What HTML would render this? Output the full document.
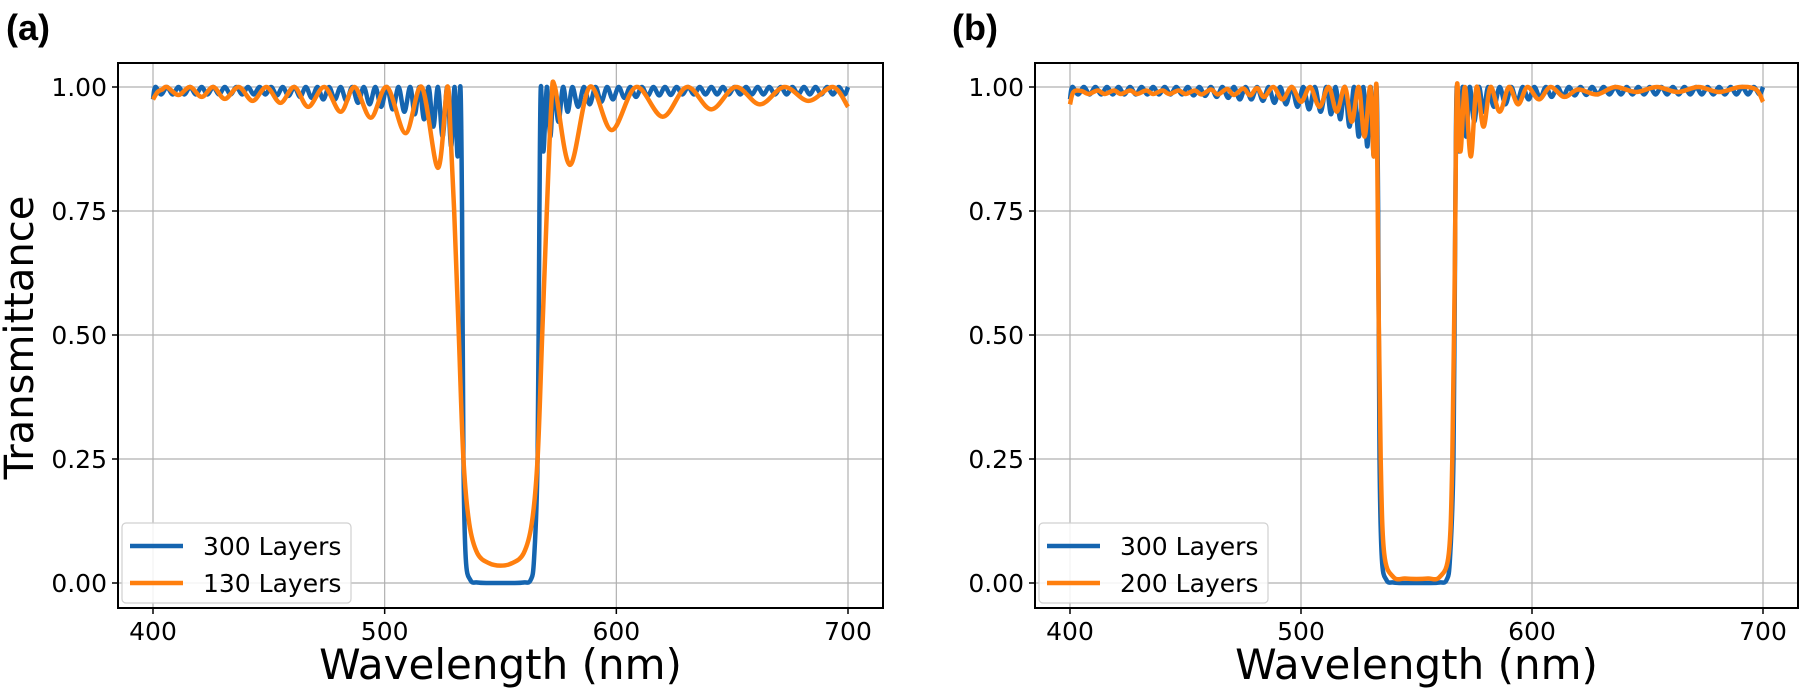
<!DOCTYPE html>
<html><head><meta charset="utf-8"><style>
html,body{margin:0;padding:0;background:#fff;}
svg{display:block;font-family:"DejaVu Sans","Liberation Sans",sans-serif;}
</style></head><body>
<svg id="fig" width="1801" height="694" viewBox="0 0 1801 694" xmlns="http://www.w3.org/2000/svg"></svg>
<script>
// ---- data ----
const xTicks = [400, 500, 600, 700];
const yTicks = [0, 0.25, 0.5, 0.75, 1.0];
const yTickLabels = ["0.00", "0.25", "0.50", "0.75", "1.00"];

const wl300 = [400,401,403.5,406,408.5,411,413.5,416,418.5,421,423.5,426,428.5,431,433.5,436,438.5,441,443.5,446,448.5,451,453.5,456,458.5,461,463.5,466,468.5,471,473.5,476,478.5,481,483.5,486,488.5,491,493.5,496,498.5,501,503.5,506,508.5,511,513,515,517,519,521,523,525,527,528.7,530.2,531.5,532.7,533.4,534,535,537,540,545,550,555,560,563,564.5,566,566.8,567.4,568.5,570,571.5,573,575,577,579,581,583.5,586,588.5,591,593.5,596,598.5,601,603.5,606,608.5,611,613.5,616,618.5,621,623.5,626,628.5,631,633.5,636,638.5,641,643.5,646,648.5,651,653.5,656,658.5,661,663.5,666,668.5,671,673.5,676,678.5,681,683.5,686,688.5,691,693.5,696,698.5,700];
const t300 = [0.975,1.0,0.985,1.0,0.985,1.0,0.985,1.0,0.985,1.0,0.985,1.0,0.985,1.0,0.985,1.0,0.985,1.0,0.985,1.0,0.985,1.0,0.983,1.0,0.982,1.0,0.98,1.0,0.978,1.0,0.975,1.0,0.975,1.0,0.972,1.0,0.968,1.0,0.965,1.0,0.96,1.0,0.955,1.0,0.95,1.0,0.945,1.0,0.935,1.0,0.92,1.0,0.9,1.0,0.88,1.0,0.86,1.0,0.75,0.25,0.05,0.006,0.001,0,0,0,0.001,0.006,0.05,0.25,0.75,1.0,0.87,1.0,0.9,1.0,0.93,1.0,0.95,1.0,0.96,1.0,0.965,1.0,0.97,1.0,0.975,1.0,0.978,1.0,0.98,1.0,0.982,1.0,0.983,1.0,0.984,1.0,0.985,1.0,0.985,1.0,0.985,1.0,0.985,1.0,0.985,1.0,0.985,1.0,0.985,1.0,0.985,1.0,0.985,1.0,0.985,1.0,0.985,1.0,0.985,1.0,0.985,1.0,0.985,1.0,0.985,1.0,0.97];

const wl130 = [400,402,404,406,411,416,421,426,431,437,443,449,455,461,467,474,481,487,494,501,509,516,523,527,528.5,530,532,534,536.5,540,545,550,555,560,563.5,566,568,570,572,573.5,580,588.5,598,608.5,620,630.5,641,651.5,662,672.5,683,693.5,700];
const t130 = [0.975,0.99,0.995,1.0,0.984,1.0,0.98,1.0,0.976,1.0,0.972,1.0,0.968,1.0,0.96,1.0,0.95,1.0,0.938,1.0,0.907,1.0,0.837,1.0,0.9,0.75,0.5,0.25,0.12,0.06,0.04,0.035,0.04,0.06,0.12,0.25,0.5,0.75,0.97,1.0,0.843,1.0,0.913,1.0,0.94,1.0,0.955,1.0,0.965,1.0,0.972,1.0,0.96];

const wl200 = [400,401.5,405,408,412,415,419,422,426,429,433,436,440,443,447,450,454,457,461,464,468,471,475,478,481,484,488,492,496,500,504,508,512,515.5,519,522,525,527.5,530,531.5,532.7,533.5,534.5,536,540,545,550,555,560,564,565.5,566.5,567.5,569,571,573.5,576,579,582,586,590,594,598,603,608,614,620,628,636,645,654,663,672,681,690,697,700];
const t200 = [0.965,0.99,0.992,0.986,0.993,0.986,0.993,0.986,0.993,0.986,0.993,0.986,0.993,0.986,0.993,0.986,0.993,0.985,0.995,0.985,0.996,0.984,0.997,0.983,0.998,0.98,1.0,0.975,1.0,0.97,1.0,0.96,1.0,0.95,1.0,0.93,1.0,0.9,1.0,0.86,1.0,0.6,0.25,0.06,0.012,0.009,0.008,0.009,0.012,0.06,0.25,0.6,1.0,0.87,1.0,0.86,1.0,0.92,1.0,0.95,1.0,0.965,1.0,0.975,1.0,0.98,0.995,0.985,1.0,0.99,1.0,0.99,1.0,0.99,1.0,0.995,0.97];

const BLUE = "#1565b0", ORANGE = "#ff7f0e";
const svg = document.getElementById('fig');
const NS = "http://www.w3.org/2000/svg";
function mk(tag, attrs, parent){
  const e = document.createElementNS(NS, tag);
  for (const k in attrs) e.setAttribute(k, attrs[k]);
  (parent||svg).appendChild(e); return e;
}
function catmull(pts){
  let d = `M${pts[0][0].toFixed(2)},${pts[0][1].toFixed(2)}`;
  for (let i=0;i<pts.length-1;i++){
    const p0=pts[Math.max(0,i-1)], p1=pts[i], p2=pts[i+1], p3=pts[Math.min(pts.length-1,i+2)];
    const c1x=p1[0]+(p2[0]-p0[0])/6, c1y=p1[1]+(p2[1]-p0[1])/6;
    const c2x=p2[0]-(p3[0]-p1[0])/6, c2y=p2[1]-(p3[1]-p1[1])/6;
    d += ` C${c1x.toFixed(2)},${c1y.toFixed(2)} ${c2x.toFixed(2)},${c2y.toFixed(2)} ${p2[0].toFixed(2)},${p2[1].toFixed(2)}`;
  }
  return d;
}

function panel(id, left, right, x400, x700, label, labelX, series, showYLabel){
  const top = 63, bottom = 608, y0 = 583, y1 = 87;
  const sx = v => x400 + (v-400)*(x700-x400)/300;
  const sy = v => y0 + (y1-y0)*v;
  const g = mk('g', {});
  
  
  // grid
  xTicks.forEach(t=>{
    const l = mk('line',{x1:sx(t),x2:sx(t),y1:top,y2:bottom,stroke:'#b0b0b0','stroke-width':1.2},g);
    
    
  });
  yTicks.forEach(t=>{
    const l = mk('line',{x1:left,x2:right,y1:sy(t),y2:sy(t),stroke:'#b0b0b0','stroke-width':1.2},g);
    
    
  });
  // series
  const cp = mk('clipPath',{id:'clip-'+id},g);
  mk('rect',{x:left,y:top,width:right-left,height:bottom-top},cp);
  series.forEach(s=>{
    const pts = s.x.map((w,i)=>[sx(w), sy(s.y[i])]);
    const p = mk('path',{d:catmull(pts),fill:'none',stroke:s.color,'stroke-width':4.5,'stroke-linejoin':'round','stroke-linecap':'butt','clip-path':`url(#clip-${id})`},g);
    
    
  });
  // spines
  const fr = mk('rect',{x:left,y:top,width:right-left,height:bottom-top,fill:'none',stroke:'#000','stroke-width':2},g);
  
  
  // ticks
  xTicks.forEach(t=>{
    mk('line',{x1:sx(t),x2:sx(t),y1:bottom,y2:bottom+6,stroke:'#000','stroke-width':1.5},g);
    const tx = mk('text',{x:sx(t),y:bottom+32,'text-anchor':'middle','font-size':25,fill:'#000'},g);
    tx.textContent = t;
    
    
  });
  yTicks.forEach((t,i)=>{
    mk('line',{x1:left-6,x2:left,y1:sy(t),y2:sy(t),stroke:'#000','stroke-width':1.5},g);
    const tx = mk('text',{x:left-11,y:sy(t)+9,'text-anchor':'end','font-size':25,fill:'#000'},g);
    tx.textContent = yTickLabels[i];
    
    
  });
  // axis labels
  const xl = mk('text',{x:(left+right)/2,y:679,'text-anchor':'middle','font-size':42,fill:'#000'},g);
  xl.textContent = 'Wavelength (nm)';
  
  
  if (showYLabel){
    const yl = mk('text',{x:0,y:0,'text-anchor':'middle','font-size':40,fill:'#000',transform:`translate(33,${(top+bottom)/2+2}) rotate(-90)`},g);
    yl.textContent = 'Transmittance';
    
    
  }
  // panel label
  const pl = mk('text',{x:labelX,y:40,'font-size':36,'font-weight':'bold',fill:'#000','font-family':'"Liberation Sans",sans-serif'},g);
  pl.textContent = label;
  
  
  // legend
  const lg = mk('g',{},g);
  
  
  mk('rect',{x:left+4,y:523,width:229,height:80,rx:4,fill:'#fff','fill-opacity':0.85,stroke:'#d0d0d0','stroke-width':1.2},lg);
  series.forEach((s,i)=>{
    const yy = 546 + i*37;
    const ln = mk('line',{x1:left+12,x2:left+65,y1:yy,y2:yy,stroke:s.color,'stroke-width':4.5},lg);
    
    
    const tx = mk('text',{x:left+85,y:yy+9,'font-size':25,fill:'#000'},lg);
    tx.textContent = s.label;
    
    
  });
}

panel('panel-a',118,883,153,848,'(a)',6,[
  {name:'series-300-layers',label:'300 Layers',x:wl300,y:t300,color:BLUE},
  {name:'series-130-layers',label:'130 Layers',x:wl130,y:t130,color:ORANGE}
], true);
panel('panel-b',1035,1798,1070,1763,'(b)',952,[
  {name:'series-300-layers',label:'300 Layers',x:wl300,y:t300,color:BLUE},
  {name:'series-200-layers',label:'200 Layers',x:wl200,y:t200,color:ORANGE}
], false);
</script>
</body></html>
